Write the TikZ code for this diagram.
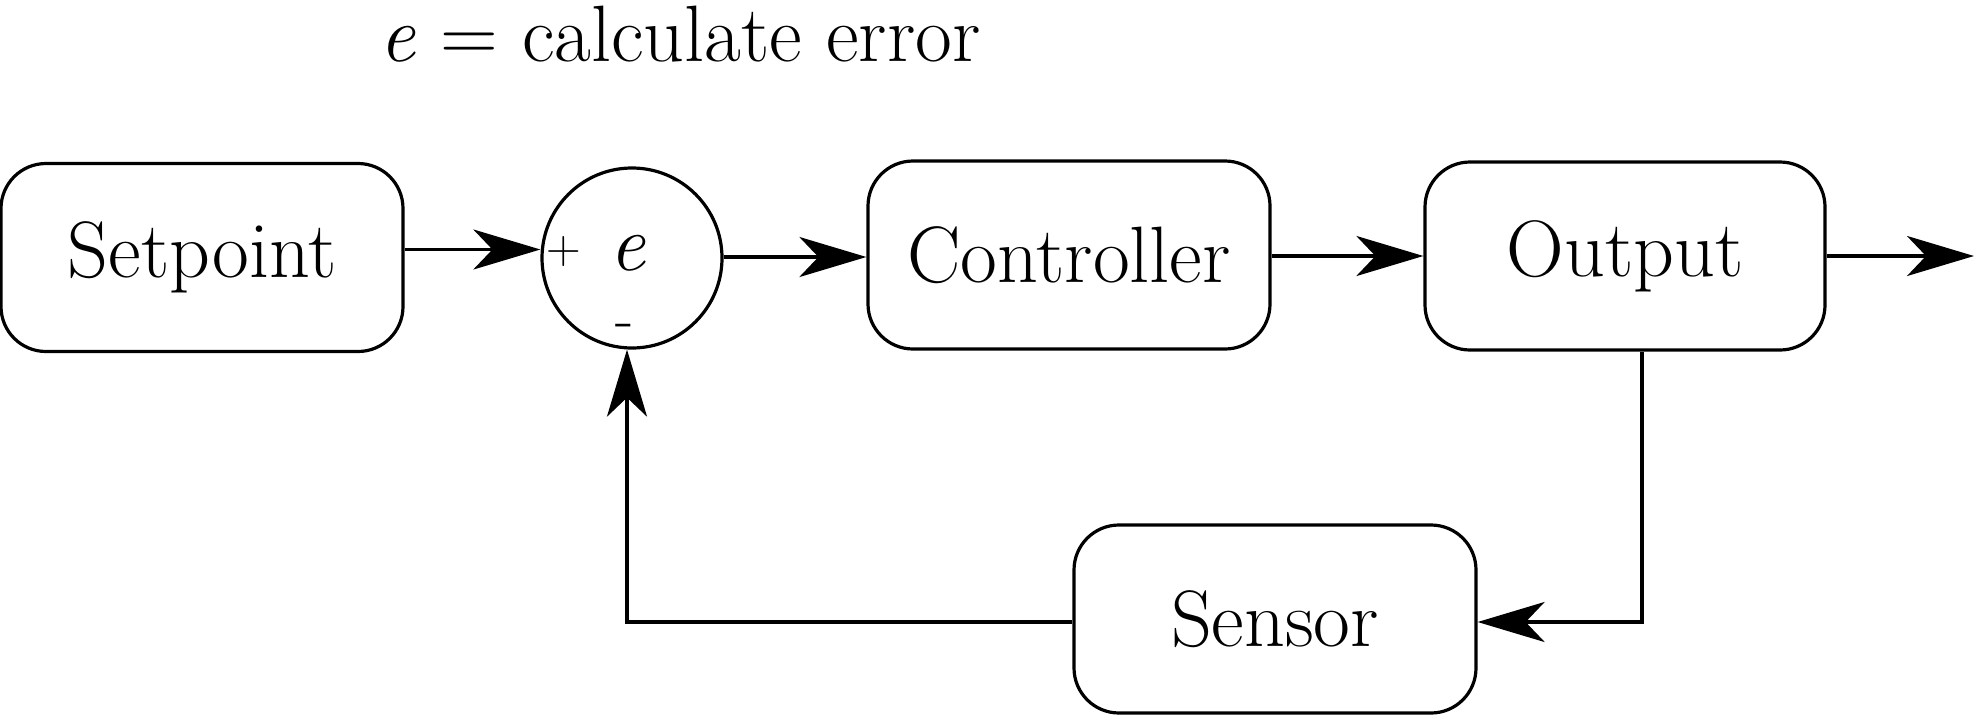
\documentclass[tikz,border=0pt]{standalone}
\usetikzlibrary{arrows.meta}
\begin{document}
\begin{tikzpicture}[x=1pt,y=1pt,
  block/.style={draw, line width=3.2pt, rounded corners=45pt, minimum width=402pt, minimum height=188pt, inner sep=0pt, font=\fontsize{80}{96}\selectfont},
  sumnode/.style={draw, circle, line width=3.2pt, minimum size=180pt, inner sep=0pt},
  conn/.style={line width=3.6pt, -{Stealth[length=67pt, width=40pt, inset=19pt]}}]
\useasboundingbox (0,0) rectangle (1975,-715);
\node[anchor=base] (title) at (680,-61) {\fontsize{80}{96}\selectfont\textit{e} = calculate error};
\node[block] (sp) at (202,-257.5) {Setpoint};
\node[sumnode] (sum) at (632,-258) {};
\node (se) at (628,-253) {\fontsize{80}{96}\selectfont\textit{e}};
\node (plus) at (564,-252) {\fontsize{48}{56}\selectfont +};
\node (minus) at (625,-331) {\fontsize{60}{70}\selectfont -};
\node[block] (ctrl) at (1069,-255) {Controller};
\node[block, minimum width=400pt] (out) at (1625,-256) {Output};
\node[block] (sens) at (1275,-619) {Sensor};
\coordinate (end) at (1974,-256);
\draw[conn] ([yshift=8pt]sp.east) -- ([yshift=8pt]sp.east -| sum.west);
\draw[conn] ([yshift=1pt]sum.east) -- ([yshift=1pt]sum.east -| ctrl.west);
\draw[conn] ([yshift=-1pt]ctrl.east) -- ([yshift=-1pt]ctrl.east -| out.west);
\draw[conn] (out.east) -- (end);
\draw[conn] ([xshift=17pt]out.south) |- ([yshift=-3pt]sens.east);
\draw[conn] ([yshift=-3pt]sens.west) -| ([xshift=-5pt]sum.south);
\end{tikzpicture}
\end{document}
